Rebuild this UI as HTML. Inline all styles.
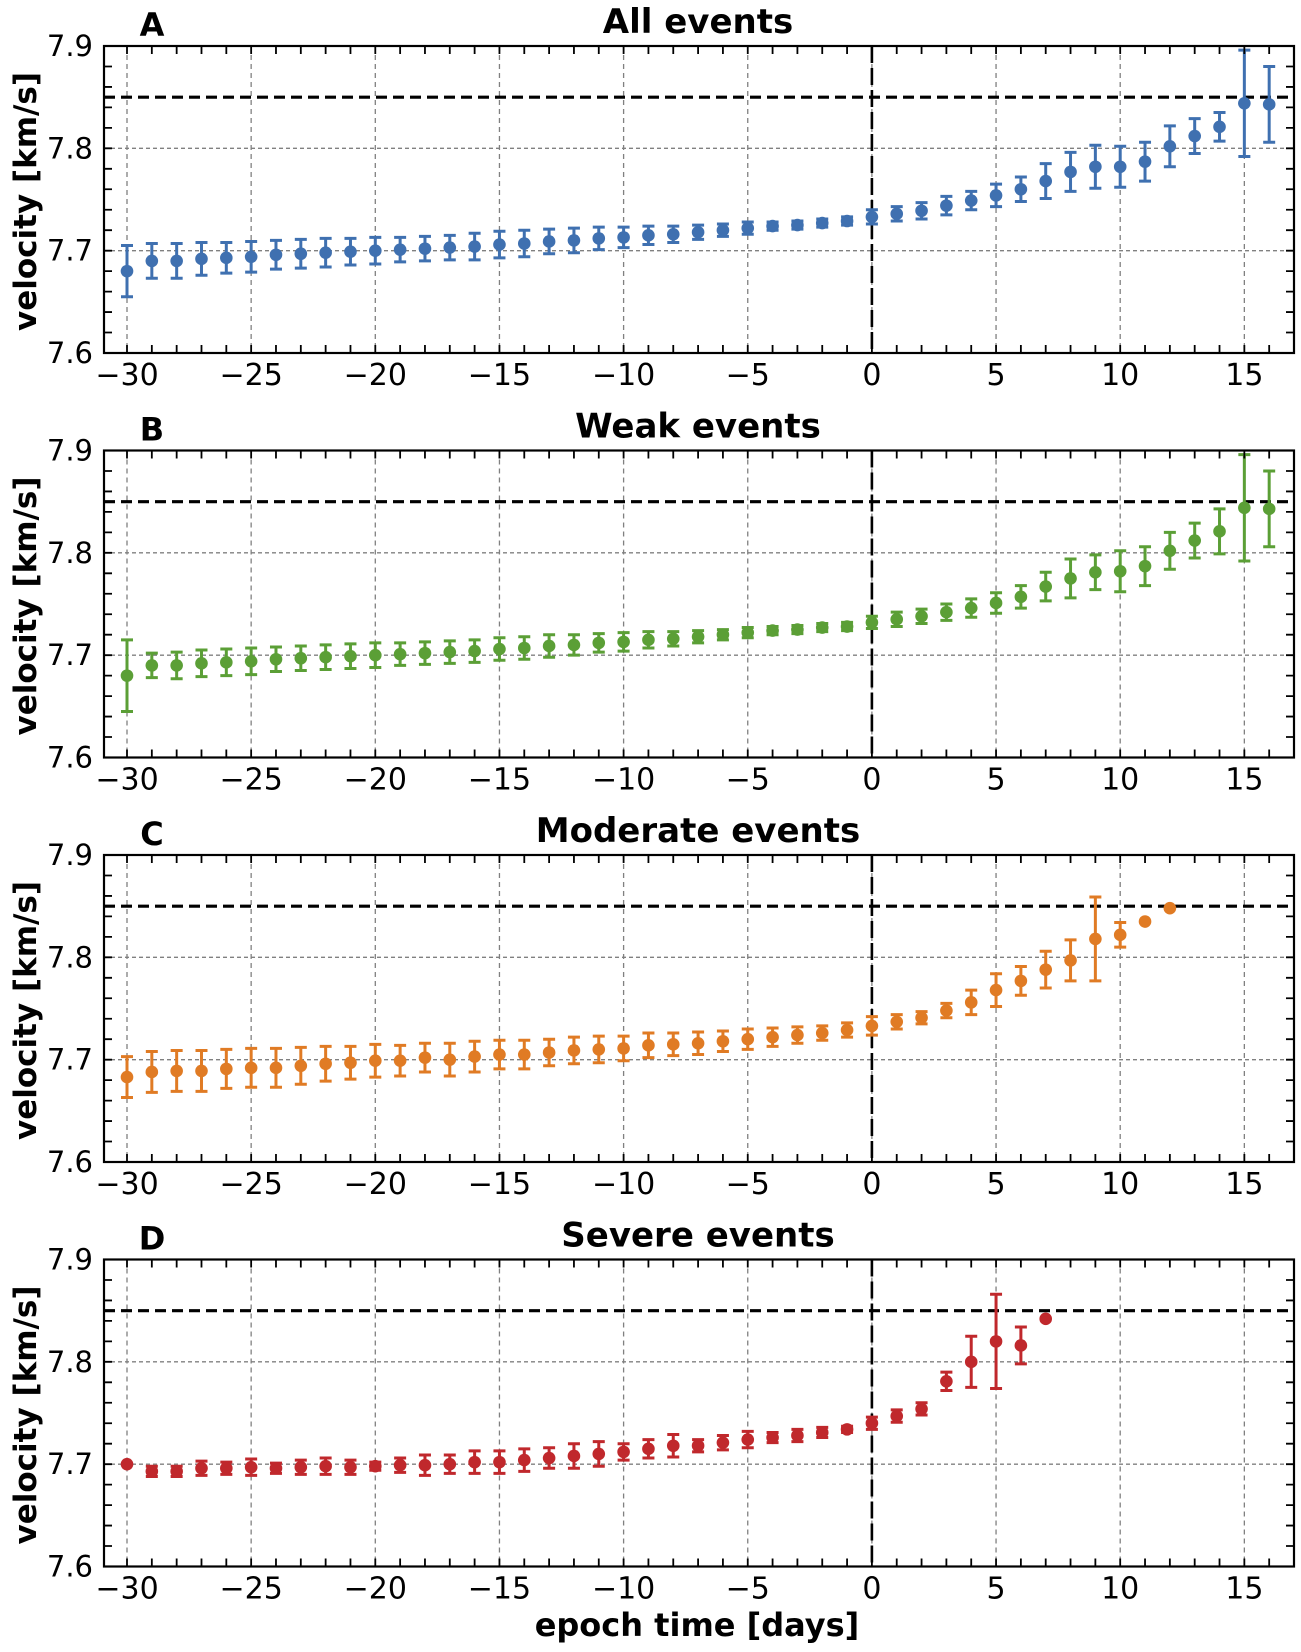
<!DOCTYPE html>
<html><head><meta charset="utf-8"><style>
html,body{margin:0;padding:0;background:#fff;}
svg{display:block;font-family:"DejaVu Sans","Liberation Sans",sans-serif;}
</style></head><body>
<svg id="chart" width="1301" height="1652" viewBox="0 0 1301 1652" xmlns="http://www.w3.org/2000/svg">
<text x="697" y="1636" text-anchor="middle" font-size="32" font-weight="bold">epoch time [days]</text>
</svg>
<script>
const days = [];
for (let d = -30; d <= 16; d++) days.push(d);
const xTicks = [-30,-25,-20,-15,-10,-5,0,5,10,15];
const xTickLabels = ["\u221230","\u221225","\u221220","\u221215","\u221210","\u22125","0","5","10","15"];
const yTicks = [7.6,7.7,7.8,7.9];
const yTickLabels = ["7.6","7.7","7.8","7.9"];
const threshold = 7.85;
const panelTitles = ["All events","Weak events","Moderate events","Severe events"];
const panelLetters = ["A","B","C","D"];

const allVals = [7.680,7.690,7.690,7.692,7.693,7.694,7.696,7.697,7.698,7.699,7.700,7.701,7.702,7.703,7.704,7.706,7.707,7.709,7.710,7.712,7.713,7.715,7.716,7.718,7.720,7.722,7.724,7.725,7.727,7.729,7.733,7.736,7.739,7.744,7.749,7.754,7.760,7.768,7.777,7.782,7.782,7.787,7.802,7.812,7.821,7.844,7.843];
const allErrs = [0.025,0.017,0.017,0.016,0.015,0.015,0.014,0.014,0.014,0.013,0.013,0.012,0.012,0.012,0.013,0.013,0.013,0.012,0.012,0.011,0.010,0.009,0.008,0.007,0.006,0.006,0.004,0.004,0.004,0.004,0.007,0.007,0.008,0.009,0.009,0.011,0.012,0.017,0.019,0.021,0.020,0.019,0.020,0.017,0.014,0.052,0.037];

const weakVals = [7.680,7.690,7.690,7.692,7.693,7.694,7.696,7.697,7.698,7.699,7.700,7.701,7.702,7.703,7.704,7.706,7.707,7.709,7.710,7.712,7.713,7.715,7.716,7.718,7.720,7.722,7.724,7.725,7.727,7.728,7.732,7.735,7.738,7.742,7.746,7.751,7.757,7.767,7.775,7.781,7.782,7.787,7.802,7.812,7.821,7.844,7.843];
const weakErrs = [0.035,0.012,0.013,0.013,0.013,0.013,0.012,0.012,0.012,0.012,0.012,0.011,0.011,0.011,0.011,0.011,0.011,0.011,0.010,0.009,0.009,0.008,0.007,0.006,0.005,0.005,0.004,0.004,0.004,0.004,0.006,0.007,0.007,0.008,0.009,0.010,0.011,0.014,0.019,0.017,0.020,0.019,0.018,0.017,0.022,0.052,0.037];

const modVals = [7.683,7.688,7.689,7.689,7.691,7.692,7.692,7.694,7.696,7.697,7.699,7.699,7.702,7.700,7.703,7.705,7.705,7.707,7.709,7.710,7.711,7.714,7.715,7.716,7.718,7.720,7.722,7.724,7.726,7.729,7.733,7.737,7.741,7.748,7.756,7.768,7.777,7.788,7.797,7.818,7.822,7.835,7.848];
const modErrs = [0.020,0.020,0.020,0.020,0.019,0.019,0.019,0.018,0.017,0.016,0.016,0.015,0.014,0.016,0.015,0.014,0.014,0.013,0.013,0.013,0.012,0.012,0.011,0.011,0.010,0.010,0.009,0.008,0.007,0.007,0.009,0.007,0.006,0.007,0.012,0.016,0.014,0.018,0.020,0.041,0.012,0,0];

const sevVals = [7.700,7.693,7.693,7.696,7.696,7.697,7.696,7.697,7.698,7.697,7.698,7.699,7.699,7.700,7.702,7.702,7.704,7.706,7.708,7.710,7.712,7.715,7.718,7.718,7.721,7.724,7.726,7.728,7.731,7.734,7.740,7.747,7.754,7.781,7.800,7.820,7.816,7.842];
const sevErrs = [0,0.005,0.005,0.007,0.006,0.008,0.005,0.007,0.008,0.007,0.004,0.007,0.010,0.009,0.011,0.011,0.011,0.010,0.012,0.012,0.008,0.009,0.011,0.006,0.007,0.008,0.005,0.006,0.005,0.003,0.006,0.006,0.006,0.009,0.025,0.046,0.018,0];

const seriesVals = [allVals, weakVals, modVals, sevVals];
const seriesErrs = [allErrs, weakErrs, modErrs, sevErrs];
const colors = ["#3f70b0","#5b9f36","#e07b24","#c0282c"];
const panelKeys = ["all","weak","moderate","severe"];

const NS = "http://www.w3.org/2000/svg";
const svg = document.getElementById("chart");
const L = 104, R = 1294, H = 307;
const tops = [46, 450.5, 855, 1259.5];
const X0 = 127, XU = 24.83;
function xs(d){ return X0 + (d + 30) * XU; }
function mk(tag, attrs, parent){
  const e = document.createElementNS(NS, tag);
  for (const k in attrs) e.setAttribute(k, attrs[k]);
  (parent || svg).appendChild(e);
  return e;
}

for (let p = 0; p < 4; p++) {
  const top = tops[p], bot = top + H;
  const ys = v => bot - (v - 7.6) / 0.3 * H;
  const g = mk("g", {});
  
  

  xTicks.forEach(t => {
    const l = mk("line", {x1: xs(t), x2: xs(t), y1: top, y2: bot, stroke: "#808080", "stroke-width": 1.3, "stroke-dasharray": "5,4"}, g);
    
    
  });
  [7.7, 7.8].forEach(t => {
    const l = mk("line", {x1: L, x2: R, y1: ys(t), y2: ys(t), stroke: "#808080", "stroke-width": 1.3, "stroke-dasharray": "4,3"}, g);
    
    
  });
  const hl = mk("line", {x1: L, x2: R, y1: ys(threshold), y2: ys(threshold), stroke: "#000", "stroke-width": 3.2, "stroke-dasharray": "11,6"}, g);
  
  
  const vl = mk("line", {x1: xs(0), x2: xs(0), y1: top, y2: bot, stroke: "#000", "stroke-width": 2.6, "stroke-dasharray": "17,5"}, g);
  
  

  const vals = seriesVals[p], errs = seriesErrs[p], c = colors[p];
  for (let i = 0; i < vals.length; i++) {
    const x = xs(days[i]), y = ys(vals[i]), e = errs[i];
    if (e > 0) {
      const y1 = ys(vals[i] + e), y2 = ys(vals[i] - e);
      const eb = mk("path", {d: `M${x},${y1}V${y2}M${x-6},${y1}H${x+6}M${x-6},${y2}H${x+6}`, stroke: c, "stroke-width": 3, fill: "none"}, g);
      
      
    }
    const pt = mk("circle", {cx: x, cy: y, r: 6.3, fill: c}, g);
    
    
  }

  let tp = "";
  for (let d = -30; d <= 16; d++) { const x = xs(d); tp += `M${x},${bot}v-8M${x},${top}v8`; }
  for (let k = 1; k < 15; k++) { const y = bot - k * H / 15; tp += `M${L},${y}h8M${R},${y}h-8`; }
  const tk = mk("path", {d: tp, stroke: "#000", "stroke-width": 1.8, fill: "none"}, g);
  
  

  const fr = mk("rect", {x: L, y: top, width: R - L, height: H, fill: "none", stroke: "#000", "stroke-width": 2.2}, g);
  
  

  xTicks.forEach((t, i) => {
    const tx = mk("text", {x: xs(t), y: bot + 32, "text-anchor": "middle", "font-size": 30}, g);
    tx.textContent = xTickLabels[i];
    
    
  });
  yTicks.forEach((t, i) => {
    const tx = mk("text", {x: 93, y: ys(t) + 10, "text-anchor": "end", "font-size": 29}, g);
    tx.textContent = yTickLabels[i];
    
    
  });
  const yl = mk("text", {x: 0, y: 0, transform: `translate(36,${top + H/2 + 2}) rotate(-90)`, "text-anchor": "middle", "font-size": 31, "font-weight": "bold"}, g);
  yl.textContent = "velocity [km/s]";
  
  

  const ti = mk("text", {x: 698, y: top - 13, "text-anchor": "middle", "font-size": 34, "font-weight": "bold"}, g);
  ti.textContent = panelTitles[p];
  
  
  const le = mk("text", {x: 152, y: top - 10, "text-anchor": "middle", "font-size": 32, "font-weight": "bold"}, g);
  le.textContent = panelLetters[p];
  
  
}
</script>
</body></html>
